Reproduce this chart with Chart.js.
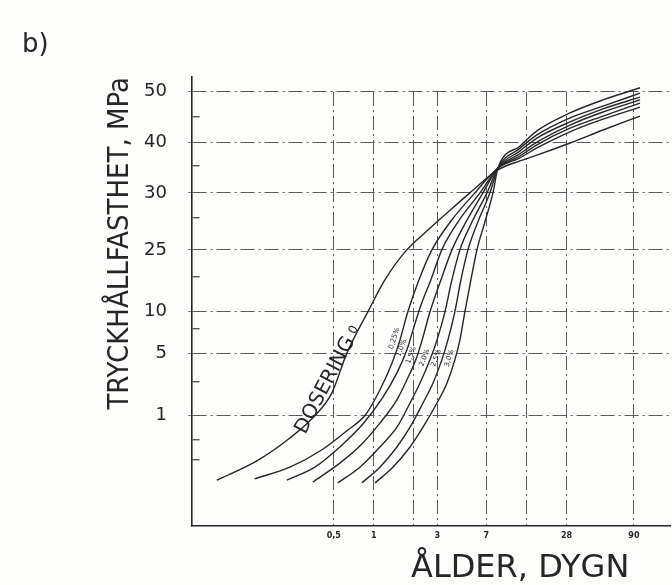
<!DOCTYPE html>
<html>
<head>
<meta charset="utf-8">
<script src="https://cdn.jsdelivr.net/npm/chart.js@4.4.1/dist/chart.umd.min.js"></script>
<style>
  html, body { margin: 0; padding: 0; background: #fdfdfc; }
  #wrap { width: 672px; height: 585px; }
</style>
</head>
<body>
<div id="wrap"><canvas id="chart"></canvas></div>
<script>
// age in days, log axis
const xTicks = [0.5, 1, 2, 3, 7, 14, 28, 90];
const xTickLabels = ['0,5', '1', '', '3', '7', '', '28', '90'];

// the strength axis is hand drawn and not linear, so values are given
// as axis position (0 = bottom of axis, 100 = top of axis)
const yTickPos = [24.7, 38.5, 47.7, 61.5, 74.2, 85.5, 96.7];
const yTickLabels = ['1', '5', '10', '25', '30', '40', '50'];
const yMinorPos = [14.7, 19.2, 32.1, 43.9, 55.5, 68.6, 80.2, 91.1];

const doseLabels = ['DOSERING', '0,25%', '1,0%', '1,5%', '2,0%', '2,5%', '3,0%'];

const dose0Days = [0.066, 0.132, 0.234, 0.348, 0.483, 0.627, 0.901, 1.21, 1.71, 2.55, 3.54, 5.27, 8.55, 12.5, 16.8, 29.8, 52.7, 100];
const dose0Val = [10.2, 14.5, 19.6, 24.1, 29.6, 38.5, 47.7, 54.8, 61.0, 65.9, 69.7, 74.2, 79.3, 81.3, 82.6, 85.3, 88.2, 91.3];

const dose025Days = [0.127, 0.234, 0.413, 0.627, 0.871, 1.11, 1.37, 1.57, 1.80, 2.18, 2.73, 3.86, 5.75, 8.55, 12.5, 16.8, 29.8, 52.7, 100];
const dose025Val = [10.5, 13.1, 17.1, 21.2, 24.9, 30.3, 36.3, 41.4, 47.7, 54.8, 61.5, 68.2, 74.2, 79.7, 82.0, 84.2, 87.8, 90.6, 93.3];

const dose10Days = [0.222, 0.360, 0.555, 0.827, 1.17, 1.49, 1.77, 2.00, 2.26, 2.68, 3.24, 4.28, 6.27, 8.55, 12.5, 16.8, 29.8, 52.7, 100];
const dose10Val = [10.2, 13.1, 17.6, 22.7, 28.7, 34.1, 39.2, 44.3, 49.2, 54.8, 61.5, 67.7, 74.2, 79.7, 82.4, 84.9, 88.6, 91.3, 94.2];

const dose15Days = [0.348, 0.555, 0.827, 1.11, 1.49, 1.77, 2.10, 2.34, 2.64, 3.19, 3.86, 4.92, 6.60, 8.55, 12.5, 16.8, 29.8, 52.7, 100];
const dose15Val = [9.8, 14.0, 18.5, 22.9, 28.1, 32.5, 37.6, 42.1, 47.7, 54.8, 61.5, 67.7, 74.2, 79.7, 82.9, 85.5, 89.3, 92.2, 94.9];

const dose20Days = [0.536, 0.785, 1.11, 1.49, 1.87, 2.22, 2.64, 2.98, 3.42, 3.86, 4.43, 5.46, 7.08, 8.55, 12.5, 16.8, 29.8, 52.7, 100];
const dose20Val = [9.6, 13.1, 17.6, 22.0, 27.4, 31.8, 37.0, 41.4, 47.7, 54.8, 61.5, 67.7, 74.2, 79.7, 83.5, 86.4, 90.0, 92.9, 95.5];

const dose25Days = [0.812, 1.11, 1.49, 1.87, 2.34, 2.78, 3.24, 3.60, 4.06, 4.51, 5.09, 6.05, 7.45, 8.55, 12.5, 16.8, 29.8, 52.7, 100];
const dose25Val = [9.6, 13.1, 17.6, 22.0, 27.4, 31.8, 37.0, 41.4, 47.7, 54.8, 61.5, 67.7, 74.2, 79.7, 84.1, 87.1, 90.9, 93.5, 96.4];

const dose30Days = [1.02, 1.39, 1.87, 2.34, 2.98, 3.54, 4.06, 4.43, 4.83, 5.36, 5.95, 6.83, 7.85, 8.55, 12.5, 16.8, 29.8, 52.7, 100];
const dose30Val = [9.6, 13.1, 17.6, 22.0, 27.4, 31.8, 37.0, 41.4, 47.7, 54.8, 61.5, 67.7, 74.2, 79.7, 84.6, 88.0, 92.0, 94.9, 97.6];

const allDays = [dose0Days, dose025Days, dose10Days, dose15Days, dose20Days, dose25Days, dose30Days];
const allVals = [dose0Val, dose025Val, dose10Val, dose15Val, dose20Val, dose25Val, dose30Val];

// which point of each curve carries its name
const labelAt = [4, 7, 6, 6, 6, 6, 6];

const ink = '#262626';
const gridInk = '#5a5a5a';
const isMinor = v => yMinorPos.indexOf(v) >= 0;
// dash-dot, vertical lines begin a little below the top of the frame
const dashDot = [14, 4, 2, 4];
const vDash = [0, 15].concat(Array(22).fill(dashDot).flat());

// writes the dose names along the curves
const curveLabels = {
  id: 'curveLabels',
  afterDatasetsDraw(chart) {
    const ctx = chart.ctx;
    chart.data.datasets.forEach((ds, k) => {
      const pts = chart.getDatasetMeta(k).data;
      const i = labelAt[k];
      const p = pts[i], a = pts[i - 1], b = pts[i + 1];
      const ang = Math.atan2(b.y - a.y, b.x - a.x);
      ctx.save();
      ctx.translate(p.x, p.y);
      ctx.rotate(ang);
      ctx.fillStyle = ink;
      ctx.textBaseline = 'alphabetic';
      if (k === 0) {
        ctx.font = '20px "DejaVu Sans"';
        const w = ctx.measureText(ds.label).width;
        ctx.textAlign = 'left';
        ctx.fillText(ds.label, -w / 2 + 4, -4);
        ctx.font = '12px "DejaVu Sans"';
        ctx.fillText('0', w / 2 + 9, -7);
      } else {
        ctx.font = '7px "DejaVu Sans"';
        ctx.textAlign = 'center';
        ctx.fillText(ds.label, 0, -4);
      }
      ctx.restore();
    });
  }
};

new Chart(document.getElementById('chart'), {
  type: 'line',
  data: {
    datasets: doseLabels.map((name, k) => ({
      label: name,
      data: allDays[k].map((d, i) => ({ x: d, y: allVals[k][i] })),
      borderColor: ink,
      borderWidth: 1.4,
      pointRadius: 0,
      cubicInterpolationMode: 'monotone',
      fill: false
    }))
  },
  options: {
    responsive: true,
    maintainAspectRatio: false,
    animation: false,
    layout: { padding: { left: 22, right: 2, top: 0, bottom: 0 } },
    plugins: {
      legend: { display: false },
      tooltip: { enabled: false },
      title: {
        display: true,
        text: 'b)',
        align: 'start',
        color: ink,
        font: { family: 'DejaVu Sans', size: 26, weight: 'normal', lineHeight: 1 },
        padding: { top: 32, bottom: 19 }
      }
    },
    scales: {
      x: {
        type: 'logarithmic',
        min: 0.043,
        max: 168,
        afterBuildTicks: s => { s.ticks = xTicks.map(v => ({ value: v })); },
        afterFit: s => { s.height = 59; },
        ticks: {
          autoSkip: false,
          maxRotation: 0,
          padding: 5,
          color: ink,
          font: { family: 'DejaVu Sans', size: 8, weight: 'bold' },
          callback: v => xTickLabels[xTicks.indexOf(v)]
        },
        grid: { color: gridInk, lineWidth: 1, drawTicks: false },
        border: { display: true, color: ink, width: 1.6, dash: vDash },
        title: {
          display: true,
          text: 'ÅLDER, DYGN\u00a0\u00a0\u00a0\u00a0',
          align: 'end',
          color: ink,
          font: { family: 'DejaVu Sans', size: 32, lineHeight: 1 },
          padding: { top: 0, bottom: 0 }
        }
      },
      y: {
        type: 'linear',
        min: 0,
        max: 100,
        afterBuildTicks: s => {
          s.ticks = yTickPos.concat(yMinorPos).sort((a, b) => a - b).map(v => ({ value: v }));
        },
        afterFit: s => { s.width = 170; },
        ticks: {
          autoSkip: false,
          padding: 21,
          color: ink,
          font: { family: 'DejaVu Sans', size: 18 },
          callback: v => {
            const i = yTickPos.indexOf(v);
            return i >= 0 ? yTickLabels[i] : '';
          }
        },
        grid: {
          color: gridInk,
          lineWidth: c => (c.tick && isMinor(c.tick.value)) ? 1.4 : 1,
          tickLength: 4,
          tickColor: c => (c.tick && isMinor(c.tick.value)) ? 'rgba(0,0,0,0)' : '#888'
        },
        border: {
          display: true,
          color: ink,
          width: 1.6,
          dash: c => (c.tick && isMinor(c.tick.value)) ? [7, 2000] : dashDot
        },
        title: {
          display: true,
          text: 'TRYCKHÅLLFASTHET, MPa',
          align: 'end',
          color: ink,
          font: { family: 'DejaVu Sans Condensed', size: 29, lineHeight: 1.2 },
          padding: { top: 81, bottom: 0 }
        }
      }
    }
  },
  plugins: [curveLabels]
});
</script>
</body>
</html>
